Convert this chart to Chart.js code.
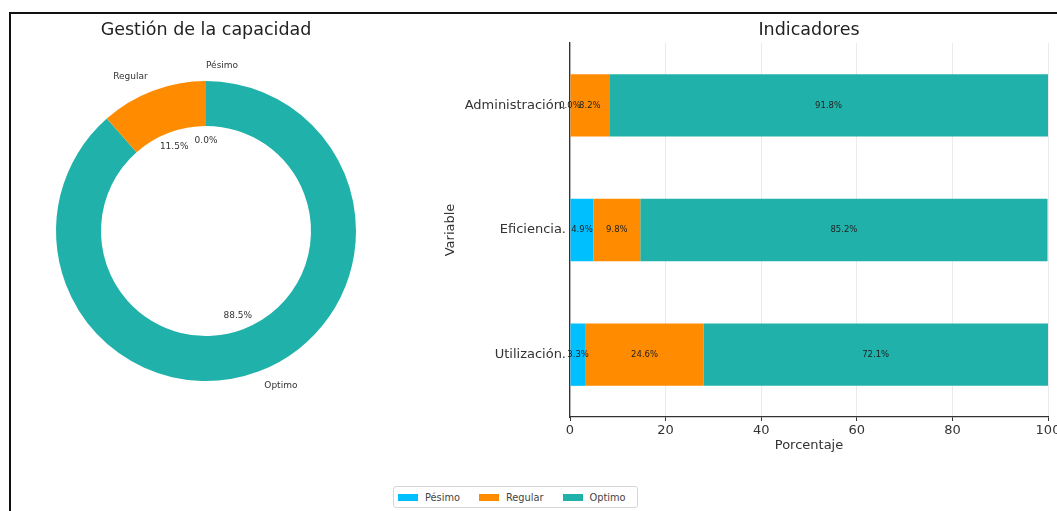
<!DOCTYPE html>
<html>
<head>
<meta charset="utf-8">
<script src="https://cdn.jsdelivr.net/npm/chart.js@4/dist/chart.umd.min.js"></script>
<style>
  html, body { margin: 0; padding: 0; background: #fff; width: 1057px; height: 511px; overflow: hidden; position: relative; }
  #frame { position: absolute; left: 9px; top: 12px; width: 1200px; height: 600px; border-top: 2px solid #111; border-left: 2px solid #111; }
  #donut { position: absolute; left: 0; top: 0; }
  #bars { position: absolute; left: 420px; top: 0; }
  #legend { position: absolute; left: 393px; top: 486px; width: 239px; height: 20px; padding-left: 4px; border: 1px solid #d6d6d6; border-radius: 3px;
            display: flex; align-items: center; font: 9.8px "DejaVu Sans"; color: #444; }
  #legend span.item { display: flex; align-items: center; margin-right: 19px; }
  #legend span.sw { display: inline-block; width: 20px; height: 7px; margin-right: 7px; }
</style>
</head>
<body>
<div id="frame"></div>
<canvas id="donut" width="412" height="462"></canvas>
<canvas id="bars" width="660" height="457"></canvas>
<div id="legend"></div>
<script>
const indicadores = ['Administración.', 'Eficiencia.', 'Utilización.'];
const categorias = ['Pésimo', 'Regular', 'Optimo'];
const colores = ['#00BFFF', '#FF8C00', '#20B2AA'];
const pesimo = [0.0, 4.9, 3.3];
const regular = [8.2, 9.8, 24.6];
const optimo = [91.8, 85.2, 72.1];
const capacidad = [0.0, 11.5, 88.5];
const xTicks = [0, 20, 40, 60, 80, 100];

Chart.defaults.font.family = '"DejaVu Sans", sans-serif';
Chart.defaults.color = '#333';

// wedge names outside the ring, percentages inside it
const donutLabels = {
  id: 'donutLabels',
  afterDatasetsDraw(chart) {
    const ctx = chart.ctx;
    const ds = chart.data.datasets[0];
    ctx.save();
    ctx.font = '9px "DejaVu Sans"';
    ctx.fillStyle = '#333';
    ctx.textBaseline = 'middle';
    chart.getDatasetMeta(0).data.forEach((arc, i) => {
      const p = arc.getProps(['x', 'y', 'startAngle', 'endAngle', 'outerRadius'], true);
      const mid = (p.startAngle + p.endAngle) / 2;
      const c = Math.cos(mid), s = Math.sin(mid);
      ctx.textAlign = c > -1e-6 ? 'left' : 'right';
      ctx.fillText(chart.data.labels[i], p.x + c * p.outerRadius * 1.1, p.y + s * p.outerRadius * 1.1);
      ctx.textAlign = 'center';
      ctx.fillText(ds.data[i].toFixed(1) + '%', p.x + c * p.outerRadius * 0.6, p.y + s * p.outerRadius * 0.6);
    });
    ctx.restore();
  }
};

// percentage in the middle of each bar segment
const barLabels = {
  id: 'barLabels',
  afterDatasetsDraw(chart) {
    const ctx = chart.ctx;
    ctx.save();
    ctx.font = '8.5px "DejaVu Sans"';
    ctx.fillStyle = '#222';
    ctx.textAlign = 'center';
    ctx.textBaseline = 'middle';
    chart.data.datasets.forEach((ds, d) => {
      chart.getDatasetMeta(d).data.forEach((bar, i) => {
        const p = bar.getProps(['x', 'y', 'base'], true);
        ctx.fillText(ds.data[i].toFixed(1) + '%', (p.x + p.base) / 2, p.y);
      });
    });
    ctx.restore();
  }
};

// panel title centred over the plot area rather than the whole canvas
const plotTitle = {
  id: 'plotTitle',
  afterDraw(chart, args, opts) {
    const ctx = chart.ctx;
    const a = chart.chartArea;
    ctx.save();
    ctx.font = '17.5px "DejaVu Sans"';
    ctx.fillStyle = '#222';
    ctx.textAlign = 'center';
    ctx.textBaseline = 'middle';
    ctx.fillText(opts.text, (a.left + a.right) / 2, opts.y);
    ctx.restore();
  }
};

// ring drawn clockwise from the top, so the order is reversed
new Chart(document.getElementById('donut'), {
  type: 'doughnut',
  data: {
    labels: categorias.slice().reverse(),
    datasets: [{
      data: capacidad.slice().reverse(),
      backgroundColor: colores.slice().reverse(),
      borderWidth: 0
    }]
  },
  options: {
    responsive: false,
    animation: false,
    cutout: '70%',
    layout: { padding: { left: 56, right: 56, top: 81, bottom: 81 } },
    plugins: {
      legend: { display: false },
      tooltip: { enabled: false },
      plotTitle: { text: 'Gestión de la capacidad', y: 30 }
    }
  },
  plugins: [donutLabels, plotTitle]
});

new Chart(document.getElementById('bars'), {
  type: 'bar',
  data: {
    labels: indicadores,
    datasets: [
      { label: categorias[0], data: pesimo, backgroundColor: colores[0] },
      { label: categorias[1], data: regular, backgroundColor: colores[1] },
      { label: categorias[2], data: optimo, backgroundColor: colores[2] }
    ]
  },
  options: {
    responsive: false,
    animation: false,
    indexAxis: 'y',
    barPercentage: 0.5,
    categoryPercentage: 1,
    layout: { padding: { left: 0, right: 32, top: 43, bottom: 0 } },
    scales: {
      x: {
        stacked: true,
        min: 0,
        max: 100,
        z: 1,
        afterBuildTicks: (scale) => { scale.ticks = xTicks.map(v => ({ value: v })); },
        afterFit: (scale) => { scale.height = 40; },
        ticks: { font: { size: 13 }, color: '#333', padding: 2, maxRotation: 0 },
        grid: { color: 'rgba(190,190,190,0.3)', tickColor: '#333', tickLength: 4 },
        border: { color: '#333', width: 1.3 },
        title: { display: true, text: 'Porcentaje', font: { size: 13 }, color: '#333', padding: { top: 0, bottom: 4 } }
      },
      y: {
        stacked: true,
        z: 1,
        afterFit: (scale) => { scale.width = 150; },
        ticks: { font: { size: 13 }, color: '#333', padding: 4 },
        grid: { color: 'transparent', drawTicks: false },
        border: { color: '#333', width: 1.3 },
        title: { display: true, text: 'Variable', font: { size: 13 }, color: '#333', padding: { top: 23, bottom: 0 } }
      }
    },
    plugins: {
      legend: { display: false },
      tooltip: { enabled: false },
      plotTitle: { text: 'Indicadores', y: 30 }
    }
  },
  plugins: [barLabels, plotTitle]
});

// shared legend under both panels
const legend = document.getElementById('legend');
categorias.forEach((name, i) => {
  const item = document.createElement('span');
  item.className = 'item';
  const sw = document.createElement('span');
  sw.className = 'sw';
  sw.style.background = colores[i];
  item.appendChild(sw);
  item.appendChild(document.createTextNode(name));
  legend.appendChild(item);
});
</script>
</body>
</html>
